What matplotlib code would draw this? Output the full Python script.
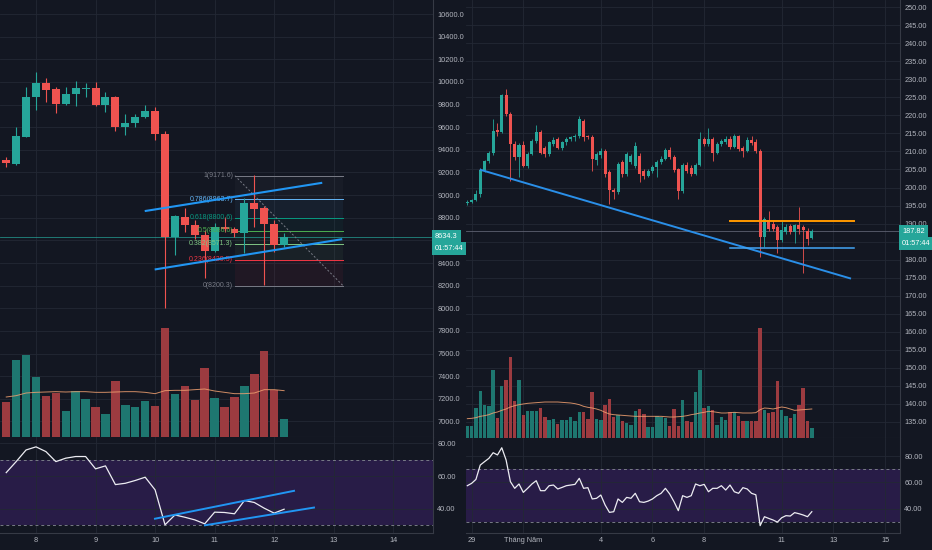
import matplotlib as mpl
import matplotlib.pyplot as plt
import numpy as np

mpl.rcParams['font.family'] = ['Liberation Sans', 'DejaVu Sans']

BG = '#131722'
GRID = '#232834'
EDGE = '#363a45'
TEXT = '#b2b5be'
UP = '#26a69a'
DOWN = '#ef5350'
VOL_UP = '#1e7770'
VOL_DOWN = '#9c3b40'
BLUE = '#2196f3'

# ---- left chart (4h candles, x = day of month) ----
left_start = 7.5
left_open = [9310, 9274, 9516, 9869, 9987, 9937, 9805, 9893, 9940, 9943,
             9796, 9864, 9598, 9640, 9687, 9746, 9539, 8626, 8809, 8735,
             8647, 8508, 8720, 8697, 8661, 8927, 8882, 8744, 8558]
left_high = [9339, 9604, 9952, 10090, 10031, 9958, 9952, 10011, 9993, 10002,
             9914, 9875, 9716, 9716, 9796, 9775, 9569, 8824, 8882, 8779,
             8691, 8756, 8809, 8720, 8971, 9177, 8903, 8779, 8662]
left_low = [9251, 9265, 9510, 9752, 9825, 9722, 9800, 9787, 9869, 9787,
            9737, 9569, 9531, 9604, 9678, 9486, 8000, 8470, 8676, 8609,
            8264, 8500, 8676, 8632, 8485, 8720, 8205, 8500, 8538]
left_close = [9280, 9522, 9869, 9987, 9928, 9805, 9893, 9943, 9945, 9796,
              9864, 9598, 9640, 9687, 9746, 9539, 8626, 8815, 8735, 8647,
              8508, 8720, 8697, 8661, 8927, 8874, 8744, 8558, 8634.3]
left_volume = [104, 232, 247, 180, 124, 132, 77, 137, 115, 89, 70, 169, 97, 90,
               109, 94, 327, 130, 154, 110, 207, 116, 89, 120, 152, 190, 259,
               142, 54]
left_vol_ma = [120, 124, 132, 134, 135, 136, 135, 136, 136, 134, 134, 135, 136,
               136, 134, 130, 139, 140, 140, 142, 144, 138, 134, 130, 130, 132,
               142, 142, 139]
left_rsi = [62.1, 68.8, 75.9, 77.8, 74.9, 68.8, 70.9, 71.9, 71.9, 64.4, 66.2,
            54.8, 55.6, 57.3, 59.3, 51.6, 30.3, 36.3, 34.9, 33.3, 30.9, 38.0,
            37.8, 37.0, 45.1, 43.9, 40.4, 37.4, 39.8]
left_last = 8634.3
left_hidden_tick = 8600  # covered by the last-price tag
left_days = [8, 9, 10, 11, 12, 13, 14]
left_day_labels = ['8', '9', '10', '11', '12', '13', '14']

channel_upper = ([9.826, 12.807], [8859, 9109])
channel_lower = ([9.993, 13.142], [8343, 8611])
rsi_upper = ([9.998, 12.333], [34.0, 51.0])
rsi_lower = ([10.838, 12.668], [30.0, 40.8])

fib_x = [11.34, 13.155]
fib_top = 9171.6
fib_bottom = 8200.3
fib_levels = [1, 0.786, 0.618, 0.5, 0.382, 0.236, 0]
fib_colors = ['#787b86', '#64b5f6', '#089981', '#4caf50', '#81c784',
              '#f23645', '#787b86']

# ---- right chart (4h candles, x = days from 1 May) ----
right_start = -2 - 1 / 6
right_ohlc = [
    (195.6, 196.6, 195.2, 196.1), (196.1, 196.9, 195.7, 196.6),
    (196.6, 199.2, 196.2, 198.2), (198.2, 205.4, 197.5, 204.9),
    (204.9, 207.5, 204.3, 207.3), (207.3, 210.2, 206.8, 209.6),
    (209.6, 219.0, 209.0, 215.7), (216.0, 217.8, 214.3, 215.4),
    (215.4, 225.9, 215.0, 225.6), (225.6, 227.2, 219.9, 220.4),
    (220.4, 221.0, 201.9, 212.0), (212.0, 212.9, 207.5, 208.4),
    (208.4, 212.4, 202.8, 211.9), (211.9, 212.8, 205.6, 206.1),
    (206.1, 209.8, 205.5, 209.3), (209.3, 213.4, 208.9, 213.0),
    (213.0, 217.3, 212.4, 215.3), (215.3, 215.9, 209.2, 209.7),
    (211.0, 211.6, 208.4, 209.3), (209.3, 213.0, 208.8, 212.5),
    (212.0, 213.9, 211.5, 213.2), (213.4, 213.9, 210.6, 211.1),
    (211.1, 213.0, 210.5, 212.5), (212.5, 214.0, 211.9, 213.4),
    (213.4, 214.4, 212.8, 213.9), (213.9, 214.9, 213.0, 214.3),
    (214.3, 219.8, 213.8, 218.9), (218.5, 219.0, 213.0, 213.9),
    (214.3, 214.6, 213.4, 213.9), (213.9, 214.5, 204.7, 207.9),
    (207.5, 209.8, 206.3, 209.3), (208.9, 210.9, 208.2, 210.2),
    (210.2, 210.7, 202.9, 203.8), (204.3, 204.8, 195.4, 199.3),
    (199.3, 200.0, 196.9, 198.7), (198.7, 207.0, 198.2, 206.5),
    (207.0, 207.5, 203.0, 203.8), (203.8, 209.8, 203.3, 209.3),
    (207.0, 209.3, 206.5, 208.8), (206.1, 212.5, 205.5, 211.5),
    (208.8, 209.5, 201.5, 203.8), (204.5, 205.2, 202.4, 203.3),
    (203.3, 205.1, 202.8, 204.6), (204.6, 206.2, 204.0, 205.6),
    (205.6, 207.6, 203.0, 207.0), (207.0, 208.8, 206.5, 208.0),
    (208.0, 211.0, 207.7, 210.5), (210.5, 211.2, 208.0, 208.4),
    (208.6, 209.0, 204.3, 204.8), (205.0, 205.4, 196.9, 199.0),
    (199.0, 206.8, 198.5, 206.3), (206.3, 207.2, 204.0, 204.7),
    (205.5, 206.3, 203.3, 203.8), (203.8, 206.8, 203.5, 206.3),
    (206.3, 215.3, 206.0, 213.4), (213.4, 214.0, 211.5, 212.0),
    (212.0, 216.6, 211.6, 213.4), (213.4, 213.9, 207.4, 209.7),
    (209.7, 212.5, 209.3, 212.0), (212.0, 213.6, 211.5, 213.0),
    (212.6, 214.4, 212.0, 213.4), (213.4, 214.4, 210.8, 211.2),
    (211.2, 214.8, 210.9, 214.2), (214.2, 214.6, 210.0, 210.7),
    (211.0, 211.5, 208.6, 210.2), (210.2, 213.9, 209.8, 213.2),
    (213.2, 214.3, 211.8, 212.4), (212.6, 213.4, 209.6, 210.2),
    (210.2, 210.6, 180.8, 186.3), (186.3, 191.9, 183.5, 191.4),
    (190.9, 193.6, 188.0, 188.6), (190.0, 190.6, 188.0, 188.6),
    (189.1, 189.6, 181.7, 185.4), (185.4, 190.9, 184.8, 188.1),
    (187.7, 189.8, 187.0, 189.1), (189.3, 189.9, 187.2, 187.7),
    (187.7, 190.0, 184.5, 189.5), (189.5, 194.6, 187.2, 188.6),
    (189.1, 189.6, 176.2, 188.1), (187.9, 188.8, 184.0, 185.8),
    (186.0, 188.6, 185.6, 187.82),
]
right_volume = [37, 37, 90, 140, 100, 97, 203, 60, 155, 175,
                242, 110, 175, 70, 80, 80, 80, 90, 63, 53,
                57, 43, 53, 53, 63, 50, 77, 78, 58, 137,
                58, 55, 100, 118, 62, 70, 50, 45, 40, 80,
                87, 73, 33, 33, 65, 62, 60, 37, 87, 37,
                115, 50, 47, 137, 203, 90, 97, 83, 40, 63,
                53, 77, 77, 65, 50, 50, 50, 50, 330, 85,
                75, 77, 170, 85, 65, 59, 72, 100, 150, 50, 30]
right_vol_ma = [58, 59, 61, 65, 67, 70, 75, 78, 83, 87,
                93, 97, 100, 102, 104, 105, 106, 107, 108, 108,
                108, 108, 107, 106, 105, 103, 100, 95, 92, 90,
                87, 83, 77, 72, 70, 69, 68, 67, 66, 65,
                65, 65, 65, 65, 65, 65, 64, 63, 63, 64,
                65, 67, 70, 72, 75, 77, 80, 79, 77, 75,
                75, 76, 77, 76, 75, 75, 75, 76, 85, 90,
                89, 87, 90, 93, 91, 87, 83, 84, 85, 86, 87]
right_rsi = [57.4, 59.2, 62.2, 73.1, 75.7, 78.2, 82.5, 80.8, 86.3, 77.0,
             60.5, 55.4, 58.7, 52.3, 55.4, 58.7, 61.2, 53.6, 53.6, 57.4,
             57.9, 54.9, 56.1, 57.4, 57.9, 58.4, 63.0, 55.4, 55.9, 47.3,
             47.8, 50.3, 42.7, 37.1, 37.6, 47.3, 44.7, 48.5, 47.8, 51.6,
             45.2, 44.7, 45.7, 47.3, 49.8, 51.6, 55.4, 51.1, 45.2, 38.4,
             49.8, 48.5, 49.8, 58.7, 57.4, 58.4, 52.8, 55.4, 55.4, 57.4,
             54.1, 57.9, 52.8, 51.6, 55.9, 54.9, 51.6, 50.5, 27.0, 33.8,
             32.5, 31.3, 29.7, 33.0, 34.6, 34.3, 36.9, 36.1, 35.1, 33.8, 37.6]
right_last = 187.82
right_hidden_tick = 185
right_days = [-2, 0, 3, 5, 7, 10, 12, 14]
right_day_labels = ['29', 'Tháng Năm', '4', '6', '8', '11', '13', '15']

trend_line = ([-1.649, 12.648], [204.9, 174.8])
resistance = ([8.0, 12.81], [190.8, 190.8])
support = ([8.0, 12.81], [183.2, 183.2])


def box(x0, y0, x1, y1):
    """Axes rect from pixel edges (origin top-left)."""
    return [x0 / 932, 1 - y1 / 550, (x1 - x0) / 932, (y1 - y0) / 550]


def style(ax, xlim, ylim, yticks, fmt, xticks, hide=None):
    ax.set_facecolor(BG)
    ax.set_xlim(*xlim)
    ax.set_ylim(*ylim)
    for side, s in ax.spines.items():
        s.set_visible(side in ('right', 'bottom'))
        s.set_color(EDGE)
        s.set_linewidth(0.8)
    ax.yaxis.tick_right()
    ax.set_yticks(yticks)
    ax.set_yticklabels(['' if v == hide else fmt % v for v in yticks])
    ax.set_xticks(xticks)
    ax.tick_params(axis='both', length=0, labelsize=5.3, colors=TEXT, pad=3)
    ax.grid(True, color=GRID, lw=0.6)
    ax.set_axisbelow(True)


def candles(ax, x, o, h, l, c, width, lw, min_body):
    o, h, l, c = (np.asarray(v, dtype=float) for v in (o, h, l, c))
    colors = np.where(c >= o, UP, DOWN)
    ax.vlines(x, l, h, colors=colors, lw=lw, zorder=3)
    body = np.maximum(np.abs(c - o), min_body)
    ax.bar(x, body, width, bottom=np.minimum(o, c), color=colors, lw=0,
           zorder=4)
    return c >= o


def volume(ax, x, vol, ma, up, width, top):
    ax.bar(x, vol, width, color=np.where(up, VOL_UP, VOL_DOWN), lw=0)
    ax.plot(x, ma, color='#f0a070', lw=0.7, alpha=0.85)
    ax.set_ylim(0, top)
    ax.set_axis_off()


def rsi_pane(ax, x, rsi):
    ax.axhspan(30, 70, color='#281c47', zorder=0.5, lw=0)
    for lev in (30, 70):
        ax.axhline(lev, color='#787b86', lw=0.7, ls=(0, (3, 3)), zorder=1)
    ax.plot(x, rsi, color='#ececf2', lw=0.9, zorder=3)


def price_tag(ax, y, text, dy=0):
    ax.annotate(text, xy=(1, y), xycoords=ax.get_yaxis_transform(),
                xytext=(2, dy), textcoords='offset pixels', ha='left',
                va='center', fontsize=5.3, color='white',
                bbox=dict(boxstyle='square,pad=0.45', fc=UP, ec='none'),
                annotation_clip=False, zorder=10)


fig = plt.figure(figsize=(9.32, 5.5), dpi=100, facecolor=BG)

# ---------------- left ----------------
ax_lp = fig.add_axes(box(0, 0, 433, 437))
ax_lr = fig.add_axes(box(0, 437, 433, 533))
ax_lv = ax_lp.twinx()  # volume overlay; twinx moves parent ticks, so style after
left_xlim = (7.3955, 14.667)
style(ax_lp, left_xlim, (6863, 10724), np.arange(7000, 10601, 200), '%.1f',
      left_days, hide=left_hidden_tick)
style(ax_lr, left_xlim, (25.3, 83.8), [40, 60, 80], '%.2f', left_days)
ax_lp.set_xticklabels([])
ax_lr.set_xticklabels(left_day_labels)

lx = left_start + np.arange(len(left_open)) / 6
up_l = candles(ax_lp, lx, left_open, left_high, left_low, left_close,
               0.8 / 6, 0.8, 6)
ax_lp.axhline(left_last, color=UP, lw=0.6, alpha=0.8, zorder=2)

# fibonacci retracement
fib_prices = [fib_bottom + f * (fib_top - fib_bottom) for f in fib_levels]
for i, (f, p, col) in enumerate(zip(fib_levels, fib_prices, fib_colors)):
    ax_lp.plot(fib_x, [p, p], color=col, lw=0.7, zorder=2)
    ax_lp.text(fib_x[0] - 0.03, p, f'{f:g}({p:.1f})', color=col, fontsize=5,
               ha='right', va='center', zorder=5)
    if i < len(fib_levels) - 1:
        ax_lp.fill_between(fib_x, p, fib_prices[i + 1], color=col, alpha=0.06,
                           lw=0, zorder=1)
ax_lp.plot(fib_x, [fib_top, fib_bottom], color='#787b86', lw=0.7,
           ls=(0, (2, 2)), zorder=2)

for xs, ys in (channel_upper, channel_lower):
    ax_lp.plot(xs, ys, color=BLUE, lw=1.5, zorder=6, solid_capstyle='butt')
price_tag(ax_lp, left_last, '%.1f' % left_last)
price_tag(ax_lp, left_last, '01:57:44', dy=-12)

volume(ax_lv, lx, left_volume, left_vol_ma, up_l, 0.85 / 6, 1311)

rsi_pane(ax_lr, lx, left_rsi)
for xs, ys in (rsi_upper, rsi_lower):
    ax_lr.plot(xs, ys, color=BLUE, lw=1.4, zorder=4)

# ---------------- right ----------------
ax_rp = fig.add_axes(box(466, 0, 900, 438))
ax_rr = fig.add_axes(box(466, 438, 900, 533))
ax_rv = ax_rp.twinx()
right_xlim = (-2.218, 14.58)
style(ax_rp, right_xlim, (130.5, 252.03), np.arange(135, 251, 5), '%.2f',
      right_days, hide=right_hidden_tick)
style(ax_rr, right_xlim, (21.4, 93.7), [40, 60, 80], '%.2f', right_days)
ax_rp.set_xticklabels([])
ax_rr.set_xticklabels(right_day_labels)

r_open, r_high, r_low, r_close = (list(v) for v in zip(*right_ohlc))
rx = right_start + np.arange(len(right_ohlc)) / 6
up_r = candles(ax_rp, rx, r_open, r_high, r_low, r_close, 0.7 / 6, 0.6,
               0.15)
ax_rp.axhline(right_last, color='#5d6170', lw=0.6, zorder=2)

ax_rp.plot(*trend_line, color='#2a8fe8', lw=1.4, zorder=6)
ax_rp.plot(*resistance, color='#ff9800', lw=1.4, zorder=6)
ax_rp.plot(*support, color='#42a5f5', lw=1.1, zorder=6)
price_tag(ax_rp, right_last, '%.2f' % right_last)
price_tag(ax_rp, right_last, '01:57:44', dy=-12)

volume(ax_rv, rx, right_volume, right_vol_ma, up_r, 0.8 / 6, 1314)

rsi_pane(ax_rr, rx, right_rsi)

fig.savefig('out.png', dpi=100, facecolor=BG)
